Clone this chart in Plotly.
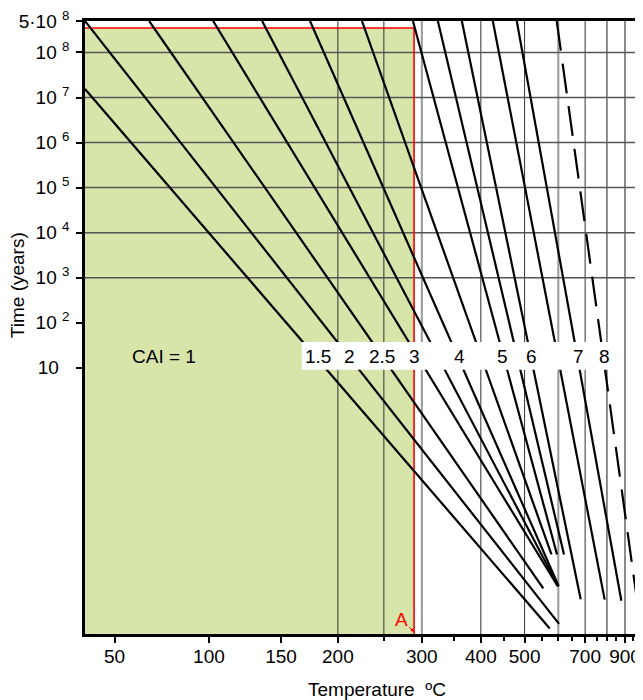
import numpy as np
import plotly.graph_objects as go

# ---------------- data ----------------
temp_extent = [37, 1020]                 # °C, horizontal extent of the plot
time_extent = [10 ** -4.91, 5e8]         # years, vertical extent of the plot

temp_label_ticks = [50, 100, 150, 200, 300, 400, 500, 700, 900]
temp_label_text = ["50", "100", "150", "200", "300", "400", "500", "700", "900"]
temp_minor_ticks = [250, 350, 450, 550, 600, 650, 750, 800, 850, 950, 1000]

time_ticks = [1e1, 1e2, 1e3, 1e4, 1e5, 1e6, 1e7, 1e8, 5e8]
time_tick_labels = ["10\u00a0\u00a0", "10 <sup>2</sup>", "10 <sup>3</sup>", "10 <sup>4</sup>",
                    "10 <sup>5</sup>", "10 <sup>6</sup>", "10 <sup>7</sup>", "10 <sup>8</sup>",
                    "5·10 <sup>8</sup>"]

grid_temps = [200, 250, 300, 400, 500, 600, 700, 800, 900]
grid_times = [1e3, 1e4, 1e5, 1e6, 1e7, 1e8]

# CAI isograd lines: start (temperature °C, time years) -> end
line_start_temp = [37, 37, 66.7, 102.6, 135.6, 174.1, 224.9, 287.4, 324.1, 364.2, 424.7, 480.0, 594.7]
line_start_time = [1.54e7, 5e8, 5e8, 5e8, 5e8, 5e8, 5e8, 5e8, 5e8, 5e8, 5e8, 5e8, 5e8]
line_end_temp = [572.2, 602.4, 552.3, 598.0, 599.7, 601.4, 577.6, 595.7, 619.5, 682.0, 788.8, 878.4, 972.8]
line_end_time = [1.63e-5, 2.06e-5, 1.27e-4, 1.41e-4, 1.41e-4, 1.41e-4, 7.18e-4, 7.18e-4, 7.18e-4,
                 7.26e-5, 7.14e-5, 6.71e-5, 8.89e-5]
line_dashed = [False] * 12 + [True]

cai_labels = ["1.5", "2", "2.5", "3", "4", "5", "6", "7", "8"]

limit_temp = 289        # °C  (point A)
limit_time = 3.5e8      # years

# ---------------- helpers ----------------
def inv(t):
    """Arrhenius abscissa: 1000 / T(K)"""
    return 1000.0 / (np.asarray(t, dtype=float) + 273.15)

FONT = "Liberation Sans, Arial, sans-serif"
OFF = 8                      # page body margin
W, H = 643 - OFF, 700 - OFF
ML, MR, MT, MB = 77, 0, 11, 66
PW, PH = W - ML - MR, H - MT - MB

def px(xp):
    return (xp - OFF - ML) / PW

def py(yp):
    return (H - MB - (yp - OFF)) / PH

fig = go.Figure()

# green acceptable region
shapes = [dict(type="rect", xref="x", yref="y",
               x0=float(inv(temp_extent[0])), x1=float(inv(limit_temp)),
               y0=time_extent[0], y1=limit_time,
               fillcolor="#d7e4aa", line=dict(width=0), layer="below")]

# vertical grid lines
for t in grid_temps:
    if t in (300, 600):
        col, wd = "#999999", 2
    elif t in (800, 900):
        col, wd = "#666666", 1.5
    else:
        col, wd = "#333333", 1
    shapes.append(dict(type="line", xref="x", yref="y",
                       x0=float(inv(t)), x1=float(inv(t)),
                       y0=time_extent[0], y1=time_extent[1],
                       line=dict(color=col, width=wd), layer="below"))
# horizontal grid lines
for tm in grid_times:
    shapes.append(dict(type="line", xref="x", yref="y",
                       x0=float(inv(temp_extent[0])), x1=float(inv(temp_extent[1])),
                       y0=tm, y1=tm, line=dict(color="#555555", width=1.5), layer="below"))

# red boundary of region
fig.add_trace(go.Scatter(
    x=inv([temp_extent[0], limit_temp, limit_temp]),
    y=[limit_time, limit_time, time_extent[0]],
    mode="lines", line=dict(color="#ff0000", width=1.6),
    hoverinfo="skip", showlegend=False))

# CAI lines
for t0, y0, t1, y1, dashed in zip(line_start_temp, line_start_time,
                                   line_end_temp, line_end_time, line_dashed):
    fig.add_trace(go.Scatter(
        x=inv([t0, t1]), y=[y0, y1], mode="lines",
        line=dict(color="black", width=2.2, dash="30px,13px" if dashed else "solid"),
        hoverinfo="skip", showlegend=False))

# invisible trace carrying the unlabeled tick axis
fig.add_trace(go.Scatter(x=inv(temp_extent), y=time_extent, xaxis="x2", mode="markers",
                         marker=dict(opacity=0), hoverinfo="skip", showlegend=False))

# white band behind the CAI numbers
shapes.append(dict(type="rect", xref="paper", yref="paper",
                   x0=px(301.7), x1=px(613), y0=py(369), y1=py(341),
                   fillcolor="white", line=dict(width=0), layer="above"))

annotations = []
label_px = [317.5, 349, 382, 414, 459, 502, 531, 578, 604]
for lab, xp in zip(cai_labels, label_px):
    annotations.append(dict(text=lab, xref="paper", yref="paper", x=px(xp), y=py(356),
                            showarrow=False, xanchor="center", yanchor="middle",
                            font=dict(family=FONT, size=19, color="black")))
annotations.append(dict(text="CAI = 1", xref="paper", yref="paper", x=px(164), y=py(356),
                        showarrow=False, xanchor="center", yanchor="middle",
                        font=dict(family=FONT, size=19, color="black")))
# point A
annotations.append(dict(text="A", xref="x", yref="paper", x=float(inv(limit_temp)), y=py(632),
                        showarrow=True, ax=-13, ay=-13, arrowhead=2, arrowsize=0.7,
                        arrowwidth=1, arrowcolor="#ff0000", standoff=0,
                        font=dict(family=FONT, size=19, color="#ff0000")))
# axis titles
annotations.append(dict(text="Temperature  ºC", xref="paper", yref="paper",
                        x=px(377), y=py(690), showarrow=False,
                        xanchor="center", yanchor="middle",
                        font=dict(family=FONT, size=19, color="black")))
annotations.append(dict(text="Time (years)", xref="paper", yref="paper",
                        x=px(17), y=py(284), showarrow=False, textangle=-90,
                        xanchor="center", yanchor="middle",
                        font=dict(family=FONT, size=19, color="black")))

xrange_ = [float(inv(temp_extent[0])), float(inv(temp_extent[1]))]
fig.update_layout(
    width=W, height=H,
    margin=dict(l=ML, r=MR, t=MT, b=MB, pad=0),
    paper_bgcolor="white", plot_bgcolor="white",
    shapes=shapes, annotations=annotations,
    font=dict(family=FONT, size=19, color="black"),
    xaxis=dict(range=xrange_,
               tickmode="array", tickvals=list(inv(temp_label_ticks)), ticktext=temp_label_text,
               ticks="outside", ticklen=6, tickwidth=1.5, tickcolor="black",
               showline=True, linecolor="black", linewidth=2.5, mirror=True,
               showgrid=False, zeroline=False, ticklabelstandoff=-3,
               ticklabeloverflow="allow",
               tickfont=dict(family=FONT, size=19, color="black")),
    xaxis2=dict(range=xrange_, overlaying="x", side="bottom", anchor="y",
                tickmode="array", tickvals=list(inv(temp_minor_ticks)), showticklabels=False,
                ticks="outside", ticklen=6, tickwidth=1.5, tickcolor="black",
                showline=False, showgrid=False, zeroline=False),
    yaxis=dict(type="log", range=[np.log10(time_extent[0]), np.log10(time_extent[1])],
               tickmode="array", tickvals=time_ticks, ticktext=time_tick_labels,
               ticks="outside", ticklen=6, tickwidth=1.5, tickcolor="black",
               showline=True, linecolor="black", linewidth=2.5,
               showgrid=False, zeroline=False, ticklabelstandoff=3,
               ticklabeloverflow="allow",
               tickfont=dict(family=FONT, size=19, color="black")),
)

fig.write_html("out.html")
